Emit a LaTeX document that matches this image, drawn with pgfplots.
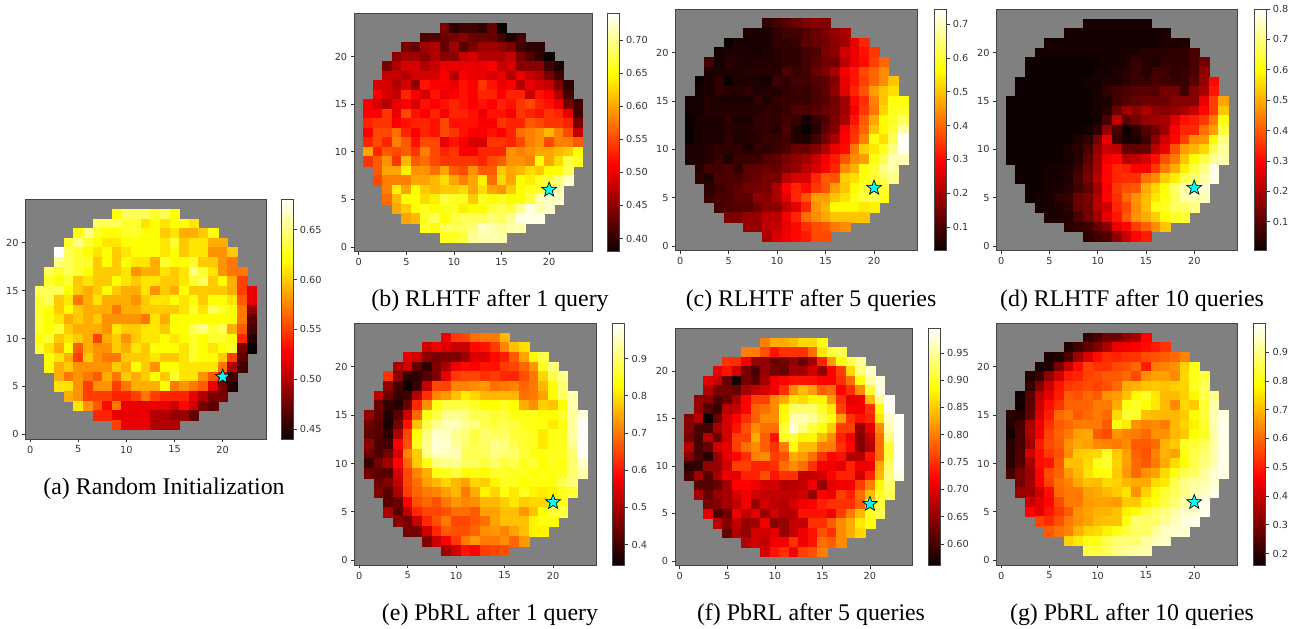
\documentclass[border=0pt]{standalone}
\usepackage{pgfplots}
\pgfplotsset{compat=1.18}
\usepackage{fontspec}
\setmainfont{Liberation Serif}
\newfontfamily\dv{DejaVu Sans}
\newcommand\tfont{\dv\fontsize{7.3}{8.5}\selectfont}
\definecolor{frm}{gray}{0.27}
\definecolor{tk}{gray}{0.2}
\definecolor{stc}{rgb}{0,1,1}
\pgfplotsset{
 colormap={mplhot}{rgb(0pt)=(0.04,0,0) rgb(365pt)=(1,0,0) rgb(746pt)=(1,1,0) rgb(1000pt)=(1,1,1)},
 hm/.style={only marks,scatter,mark=square*,point meta=explicit,line width=0.25pt,
  mark size=\rr pt,scatter/use mapped color={draw=mapped color,fill=mapped color}}}
\pgfdeclareplotmark{fstar}{%
 \pgfpathmoveto{\pgfqpointpolar{90}{\pgfplotmarksize}}%
 \pgfpathlineto{\pgfpointpolar{126}{0.42\pgfplotmarksize}}%
 \pgfpathlineto{\pgfqpointpolar{162}{\pgfplotmarksize}}%
 \pgfpathlineto{\pgfpointpolar{198}{0.42\pgfplotmarksize}}%
 \pgfpathlineto{\pgfqpointpolar{234}{\pgfplotmarksize}}%
 \pgfpathlineto{\pgfpointpolar{270}{0.42\pgfplotmarksize}}%
 \pgfpathlineto{\pgfqpointpolar{306}{\pgfplotmarksize}}%
 \pgfpathlineto{\pgfpointpolar{342}{0.42\pgfplotmarksize}}%
 \pgfpathlineto{\pgfqpointpolar{18}{\pgfplotmarksize}}%
 \pgfpathlineto{\pgfpointpolar{54}{0.42\pgfplotmarksize}}%
 \pgfpathclose\pgfusepathqfillstroke}
\newcount\cx
\def\R#1#2#3{\global\cx=#2\relax\foreach \v in {#3}{\xdef\stream{\stream (\the\cx,#1) [0.\v]}\global\advance\cx by 1 }}
\def\Data#1{\gdef\stream{}#1}
% left, right, top, bottom, colourbar left (px), meta min, meta max, ticks, labels
\def\Panel#1#2#3#4#5#6#7#8#9{%
 \pgfmathsetmacro\xa{(#1)*0.75}\pgfmathsetmacro\ya{(628-#4)*0.75}%
 \pgfmathsetmacro\ww{(#2-#1)*0.75}\pgfmathsetmacro\hh{(#4-#3)*0.75}%
 \pgfmathsetmacro\rr{\ww/50}\pgfmathsetmacro\cbo{(#5-#2)*0.75-8.5}%
 \begin{axis}[scale only axis,width=\ww pt,height=\hh pt,at={(\xa pt,\ya pt)},anchor=south west,
  xmin=-0.5,xmax=24.5,ymin=-0.5,ymax=24.5,
  xtick={0,5,10,15,20},ytick={0,5,10,15,20},xtick pos=bottom,ytick pos=left,
  tick align=outside,major tick length=2.6pt,
  tick style={color=tk,line width=0.5pt},axis line style={color=frm,line width=0.6pt},
  tick label style={font=\tfont,text=tk},/pgf/number format/assume math mode=true,
  xticklabel style={yshift=1pt},yticklabel style={xshift=1pt},
  axis background/.style={fill=gray},
  colormap name=mplhot,point meta min=#6,point meta max=#7,
  colorbar,colorbar style={at={(parent axis.north east)},anchor=north west,xshift=\cbo pt,
   width=9pt,ytick={#8},yticklabels={#9},ytick pos=right,tick align=outside,major tick length=2.6pt,
   tick style={color=tk,line width=0.5pt},axis line style={color=frm,line width=0.6pt},
   yticklabel style={font=\tfont,text=tk,xshift=-1pt}}]
 \edef\temp{\noexpand\addplot[hm] coordinates {\stream};}\temp
 \addplot[only marks,mark=fstar,mark size=5.8pt,mark options={fill=stc,draw=black,line width=0.5pt}] coordinates {(20,6)};
 \end{axis}}
\begin{document}
\begin{tikzpicture}[x=0.75pt,y=0.75pt]
\path[use as bounding box] (0,0) rectangle (1295,628);
% (a)
\Data{
\R{23}{9}{62,64,64,64,63,64,62}
\R{22}{7}{64,64,64,63,63,61,62,61,62,62,61}
\R{21}{5}{62,65,63,62,62,63,63,62,62,60,61,59,59,60,62}
\R{20}{4}{63,65,63,62,61,61,62,62,62,62,61,63,60,61,61,59,59}
\R{19}{3}{68,64,63,62,61,62,60,61,62,62,62,61,62,60,61,61,58,58,60}
\R{18}{3}{65,64,63,63,60,62,60,62,61,61,59,63,62,62,63,60,60,58,57}
\R{17}{2}{64,63,64,63,62,60,60,60,61,58,59,59,61,60,61,65,63,61,58,57,57}
\R{16}{2}{63,62,63,60,61,60,60,62,61,60,61,61,60,60,61,63,64,60,62,59,55}
\R{15}{1}{64,64,64,62,60,59,60,62,60,59,59,61,58,60,59,62,60,60,60,60,59,55,52}
\R{14}{1}{63,64,60,61,57,59,61,59,59,59,58,60,61,61,62,61,62,60,62,62,61,56,52}
\R{13}{1}{63,62,60,62,60,59,59,59,57,59,59,60,60,60,60,61,63,61,64,63,62,57,49}
\R{12}{1}{63,62,61,59,60,59,60,58,58,58,58,57,61,59,62,62,62,62,62,62,62,57,47}
\R{11}{1}{63,62,63,60,59,59,59,58,61,60,60,61,61,60,62,62,64,65,63,64,59,56,46}
\R{10}{1}{62,63,60,61,60,59,55,59,60,58,60,61,61,62,61,62,63,62,63,63,62,54,45}
\R{9}{1}{63,61,59,62,56,59,58,58,60,59,61,60,62,62,62,61,63,62,61,62,63,48,44}
\R{8}{2}{62,61,59,55,60,58,57,57,60,60,60,61,60,60,61,63,62,62,60,55,47}
\R{7}{2}{62,59,60,58,58,58,58,60,59,62,60,58,62,62,61,61,61,61,57,50,46}
\R{6}{3}{59,57,58,57,56,59,57,60,59,60,62,60,63,61,61,58,56,53,46}
\R{5}{3}{61,61,58,55,58,58,55,57,59,59,59,62,57,58,57,56,52,48,45}
\R{4}{4}{59,58,55,55,55,54,54,55,57,55,54,54,54,52,50,48,48}
\R{3}{5}{61,58,56,53,57,52,52,52,52,52,51,53,51,48,47}
\R{2}{7}{54,54,52,52,52,52,50,50,49,49,47}
\R{1}{9}{55,52,52,52,50,50,50}
}
\Panel{25.3}{266}{199.7}{439}{281}{0.44}{0.68}{0.45,0.50,0.55,0.60,0.65}{0.45,0.50,0.55,0.60,0.65}
% (b)
\Data{
\R{23}{9}{44,40,41,41,40,43,38}
\R{22}{7}{42,42,43,44,45,43,43,43,41,39,41}
\R{21}{5}{44,43,46,47,43,46,42,44,46,46,45,44,41,40,40}
\R{20}{4}{45,46,46,45,47,45,45,48,49,47,47,47,48,44,42,40,38}
\R{19}{3}{44,47,49,49,47,48,50,50,50,50,50,51,48,49,45,45,45,41,39}
\R{18}{3}{48,48,47,49,49,49,51,47,51,50,50,49,50,47,50,48,47,44,41}
\R{17}{2}{49,49,47,49,45,52,51,51,50,52,51,54,52,50,51,47,50,49,48,44,40}
\R{16}{2}{51,49,48,53,51,49,52,50,51,52,51,53,53,51,53,53,48,52,51,47,41}
\R{15}{1}{51,49,47,50,51,49,52,51,52,53,52,51,52,51,53,52,54,55,53,52,50,44,41}
\R{14}{1}{51,51,54,50,55,52,51,53,51,53,53,52,50,52,52,51,54,53,52,54,53,50,41}
\R{13}{1}{53,54,54,51,52,53,53,52,55,52,52,52,51,51,54,53,53,56,55,54,54,53,44}
\R{12}{1}{51,55,55,57,53,51,53,52,55,54,52,51,51,52,51,53,57,58,59,61,58,55,48}
\R{11}{1}{53,55,53,58,56,52,55,55,50,52,51,49,49,54,54,53,55,58,59,55,58,58,56}
\R{10}{1}{60,53,56,55,56,54,58,55,53,54,51,51,53,53,53,59,58,59,60,60,61,62,65}
\R{9}{1}{54,56,59,54,61,56,57,55,54,54,54,54,53,55,56,59,59,58,65,60,63,67,66}
\R{8}{2}{56,60,60,64,59,59,57,60,56,55,59,56,56,62,60,61,63,62,65,65,68}
\R{7}{2}{55,58,58,58,60,60,61,63,60,58,60,64,57,63,60,65,64,66,67,69,72}
\R{6}{3}{58,64,60,65,62,61,62,62,63,60,63,60,59,62,65,66,66,68,71}
\R{5}{3}{57,61,65,65,63,64,67,66,66,62,66,65,66,65,65,67,71,72,72}
\R{4}{4}{60,62,65,66,65,66,66,64,65,65,67,68,67,70,73,71,72}
\R{3}{5}{60,61,66,68,65,67,68,68,68,69,68,70,73,73,73}
\R{2}{7}{66,65,68,68,68,69,72,71,70,71,71}
\R{1}{9}{66,66,67,70,71,71,71}
}
\Panel{354}{592}{13.7}{251.7}{607.3}{0.38}{0.74}{0.40,0.45,0.50,0.55,0.60,0.65,0.70}{0.40,0.45,0.50,0.55,0.60,0.65,0.70}
% (c)
\Data{
\R{23}{9}{07,09,11,13,15,17,15}
\R{22}{7}{05,05,05,07,09,09,11,13,15,18,20}
\R{21}{5}{03,05,04,05,05,07,07,08,12,13,14,17,19,27,33}
\R{20}{4}{04,05,05,05,04,05,06,07,07,09,10,15,17,24,27,31,35}
\R{19}{3}{09,04,06,06,05,06,06,06,07,07,09,12,14,14,22,27,30,36,40}
\R{18}{3}{05,05,05,05,06,06,06,06,10,08,09,13,15,20,28,31,37,40,44}
\R{17}{2}{03,05,07,03,05,05,05,04,08,07,09,09,11,12,16,27,31,36,40,44,50}
\R{16}{2}{04,05,07,06,06,07,05,06,06,07,08,08,10,12,17,26,33,38,46,50,53}
\R{15}{1}{04,04,06,05,05,05,05,07,05,07,08,08,08,10,11,14,19,30,34,43,50,57,57}
\R{14}{1}{04,04,06,06,06,06,06,06,07,07,08,10,10,11,13,15,19,28,35,42,52,58,59}
\R{13}{1}{03,05,05,05,07,05,05,07,07,07,09,08,04,07,10,15,20,31,39,47,56,59,63}
\R{12}{1}{03,05,05,05,06,06,06,07,07,06,10,05,03,06,12,16,28,34,40,50,56,60,68}
\R{11}{1}{03,05,05,05,07,05,06,06,08,08,09,06,05,09,14,20,29,35,43,57,53,62,74}
\R{10}{1}{05,05,06,07,07,07,05,07,07,08,10,13,13,16,20,27,30,42,51,54,58,65,74}
\R{9}{1}{05,05,06,08,05,08,08,08,11,12,15,17,19,23,28,32,38,44,46,57,62,69,69}
\R{8}{2}{06,09,09,10,07,12,12,13,13,16,18,22,25,29,33,44,48,57,60,66,68}
\R{7}{2}{07,05,10,10,10,12,13,15,15,22,25,25,33,39,38,51,53,57,60,63,66}
\R{6}{3}{07,08,10,12,14,14,15,20,29,33,30,35,38,46,50,56,60,60,60}
\R{5}{3}{08,10,10,12,12,17,16,20,26,33,38,46,46,50,53,58,61,62,58}
\R{4}{4}{09,10,11,11,14,17,17,22,26,33,45,48,56,56,56,54,55}
\R{3}{5}{15,15,18,18,22,22,28,33,41,44,47,50,50,50,50}
\R{2}{7}{18,18,22,23,27,30,34,37,38,42,44}
\R{1}{9}{20,25,28,30,32,37,37}
}
\Panel{675.3}{917.7}{9}{250.7}{934}{0.03}{0.745}{0.1,0.2,0.3,0.4,0.5,0.6,0.7}{0.1,0.2,0.3,0.4,0.5,0.6,0.7}
% (d)
\Data{
\R{23}{9}{02,02,02,02,02,02,02}
\R{22}{7}{02,02,02,02,02,02,02,02,02,02,02}
\R{21}{5}{02,02,02,02,02,02,02,02,02,02,02,02,03,03,03}
\R{20}{4}{02,02,02,02,02,02,02,02,02,03,03,04,04,04,05,05,08}
\R{19}{3}{01,01,01,01,01,01,01,01,02,02,03,06,04,03,05,05,05,08,13}
\R{18}{3}{01,01,01,01,01,01,01,02,02,03,04,06,04,07,07,05,06,08,16}
\R{17}{2}{01,01,01,01,01,01,01,02,02,03,03,04,06,06,08,07,06,06,10,17,30}
\R{16}{2}{01,01,01,01,01,01,01,01,02,05,07,08,09,10,09,13,13,07,15,19,32}
\R{15}{1}{01,01,01,01,01,01,01,01,01,02,03,07,09,11,12,12,12,15,15,15,27,37,49}
\R{14}{1}{01,01,01,01,01,01,01,01,01,02,04,12,18,16,20,16,15,17,19,23,30,37,53}
\R{13}{1}{01,01,01,01,01,01,01,01,01,02,08,22,10,13,17,18,19,25,31,33,36,44,61}
\R{12}{1}{01,01,01,01,01,01,01,01,02,05,17,08,01,04,09,12,18,29,34,34,43,48,65}
\R{11}{1}{01,01,01,01,01,01,01,03,05,13,27,06,02,03,07,16,24,30,37,46,47,60,70}
\R{10}{1}{01,01,01,01,01,01,03,04,08,17,23,22,11,11,12,21,27,39,48,51,55,66,72}
\R{9}{1}{01,01,01,01,01,01,02,04,10,18,28,30,21,22,25,31,39,44,53,60,65,72,73}
\R{8}{2}{01,01,01,02,02,03,06,12,19,30,34,33,29,29,36,44,50,58,65,70,78}
\R{7}{2}{01,01,01,02,02,03,08,13,21,30,34,35,35,43,46,54,58,66,69,73,78}
\R{6}{3}{01,01,02,02,04,07,11,18,29,36,39,40,50,55,60,68,73,74,76}
\R{5}{3}{01,02,02,05,06,12,14,20,30,35,42,47,52,57,61,66,73,74,74}
\R{4}{4}{02,02,03,05,11,13,21,24,34,38,46,52,61,62,67,68,70}
\R{3}{5}{03,03,03,08,13,18,27,32,40,47,50,54,60,63,64}
\R{2}{7}{04,05,07,11,15,27,30,37,41,46,53}
\R{1}{9}{05,07,09,16,23,30,33}
}
\Panel{996.3}{1237.7}{9}{250.7}{1254}{0.005}{0.80}{0.1,0.2,0.3,0.4,0.5,0.6,0.7,0.8}{0.1,0.2,0.3,0.4,0.5,0.6,0.7,0.8}
% (e)
\Data{
\R{23}{9}{57,64,65,69,70,70,76}
\R{22}{7}{54,57,55,53,53,59,60,64,71,77,80}
\R{21}{5}{56,54,47,45,46,46,49,55,55,59,61,67,74,83,88}
\R{20}{4}{50,54,43,38,46,50,57,59,58,60,60,64,65,68,73,85,91}
\R{19}{3}{63,47,38,38,42,46,56,64,65,65,63,64,62,62,66,70,79,88,92}
\R{18}{3}{48,40,35,39,53,65,65,71,71,72,73,69,70,71,68,70,76,83,90}
\R{17}{2}{52,44,39,40,51,63,71,73,77,81,79,76,76,76,76,69,70,74,83,89,94}
\R{16}{2}{44,39,37,44,62,72,84,87,87,87,85,83,83,85,83,75,72,78,77,83,94}
\R{15}{1}{48,43,37,42,54,68,84,87,92,92,91,88,88,86,87,84,84,85,83,83,86,93,97}
\R{14}{1}{44,42,36,45,60,77,88,92,95,95,92,91,88,87,88,87,85,84,84,81,84,93,99}
\R{13}{1}{43,42,38,50,65,83,91,96,95,92,91,87,90,89,89,87,86,85,81,84,85,93,99}
\R{12}{1}{47,41,40,58,66,85,92,97,96,93,90,88,89,92,91,88,86,85,81,84,85,92,99}
\R{11}{1}{44,41,45,54,71,78,92,96,95,95,88,88,89,91,91,90,87,84,84,85,85,90,99}
\R{10}{1}{39,45,49,58,68,78,84,91,92,92,89,89,87,90,87,88,85,87,83,85,84,90,96}
\R{9}{1}{44,42,42,54,65,71,75,84,85,87,83,84,83,86,86,85,85,84,84,84,85,90,94}
\R{8}{2}{44,46,52,65,69,74,76,79,76,74,79,78,82,85,85,83,84,84,84,88,91}
\R{7}{2}{46,42,50,64,68,70,71,74,76,70,75,82,79,84,81,85,82,81,82,85,86}
\R{6}{3}{42,44,58,66,68,66,70,73,71,72,76,76,78,81,78,79,79,82,85}
\R{5}{3}{50,42,52,62,65,65,66,69,69,67,74,74,77,77,73,77,83,87,87}
\R{4}{4}{47,45,53,62,66,70,65,65,67,69,74,77,77,77,82,84,84}
\R{3}{5}{45,45,54,62,67,66,66,68,72,73,71,74,77,82,82}
\R{2}{7}{46,53,58,64,70,73,70,70,72,68,73}
\R{1}{9}{49,54,60,58,64,65,66}
}
\Panel{354.3}{596.7}{323.3}{565}{612.7}{0.345}{0.995}{0.4,0.5,0.6,0.7,0.8,0.9}{0.4,0.5,0.6,0.7,0.8,0.9}
% (f)
\Data{
\R{23}{9}{80,83,83,84,86,86,89}
\R{22}{7}{80,80,77,73,75,75,75,79,87,91,92}
\R{21}{5}{75,75,71,65,65,62,63,65,62,66,74,82,89,92,95}
\R{20}{4}{71,73,69,63,60,65,63,62,66,66,69,65,72,76,86,94,97}
\R{19}{3}{70,68,62,57,63,61,66,71,72,73,73,73,72,72,75,79,89,96,98}
\R{18}{3}{67,63,63,62,66,68,69,71,75,81,84,82,78,79,72,75,81,91,98}
\R{17}{2}{65,64,60,62,66,72,76,76,81,83,87,86,88,88,82,75,70,71,84,95,99}
\R{16}{2}{65,61,59,67,68,72,78,79,81,88,93,93,93,90,87,76,71,71,75,89,99}
\R{15}{1}{64,67,56,62,69,72,75,78,81,81,89,96,96,95,92,89,82,75,73,74,87,97,99}
\R{14}{1}{64,60,60,66,69,73,77,81,79,79,91,98,94,91,89,85,76,76,65,70,81,96,99}
\R{13}{1}{63,60,67,62,69,76,76,83,78,73,90,91,88,88,84,81,74,71,64,68,79,94,99}
\R{12}{1}{67,60,62,69,70,76,79,81,78,75,80,89,84,84,80,80,75,72,64,67,79,91,99}
\R{11}{1}{64,60,58,65,70,72,75,80,81,76,77,83,82,79,75,72,73,67,67,73,79,91,99}
\R{10}{1}{58,59,65,65,69,76,76,74,74,75,79,81,79,75,71,71,70,74,71,71,83,93,99}
\R{9}{1}{60,66,61,66,71,70,74,74,77,73,75,75,68,68,69,72,74,74,69,74,84,94,98}
\R{8}{2}{61,61,62,66,72,72,71,69,69,67,67,68,71,65,70,71,71,76,80,88,93}
\R{7}{2}{66,62,65,66,69,71,69,68,68,68,68,69,65,72,71,76,74,79,84,90,92}
\R{6}{3}{63,64,66,68,71,65,69,68,67,69,71,72,74,75,75,75,78,88,91}
\R{5}{3}{70,60,62,71,68,70,65,69,67,67,73,73,73,71,76,80,84,90,92}
\R{4}{4}{68,64,68,65,66,71,64,65,68,68,75,75,78,81,83,87,89}
\R{3}{5}{62,67,65,69,69,70,65,68,71,73,77,75,81,83,86}
\R{2}{7}{67,69,68,71,71,75,71,73,79,78,81}
\R{1}{9}{69,73,75,71,76,77,80}
}
\Panel{675}{912.7}{328.3}{565.7}{928.3}{0.56}{0.995}{0.60,0.65,0.70,0.75,0.80,0.85,0.90,0.95}{0.60,0.65,0.70,0.75,0.80,0.85,0.90,0.95}
% (g)
\Data{
\R{23}{9}{21,24,29,29,33,36,47}
\R{22}{7}{19,23,27,31,37,44,45,46,48,50,53}
\R{21}{5}{18,19,24,35,42,48,52,51,53,53,56,57,58,60,63}
\R{20}{4}{18,19,30,40,48,55,53,53,56,57,60,50,62,63,65,73,80}
\R{19}{3}{19,22,33,41,50,51,55,56,58,58,60,56,65,67,67,64,74,81,84}
\R{18}{3}{21,31,40,49,54,55,56,55,57,60,68,69,71,72,71,73,73,81,86}
\R{17}{2}{17,26,38,43,50,58,57,60,58,65,66,71,78,82,76,70,70,73,78,85,90}
\R{16}{2}{17,26,40,48,53,59,59,59,62,62,68,80,82,79,76,70,64,74,72,83,93}
\R{15}{1}{20,19,27,42,50,60,62,58,60,62,60,74,83,82,71,70,70,70,72,79,84,93,97}
\R{14}{1}{19,23,36,44,53,58,60,62,62,62,58,80,76,65,63,64,62,70,73,77,82,93,98}
\R{13}{1}{17,24,36,45,55,59,62,67,68,58,56,65,63,62,60,65,65,70,72,79,82,92,98}
\R{12}{1}{20,24,34,50,56,58,65,68,67,64,63,62,64,58,58,60,69,72,82,83,86,92,98}
\R{11}{1}{20,25,41,48,54,57,64,72,73,74,82,72,67,59,57,63,69,67,80,85,88,93,98}
\R{10}{1}{20,25,36,48,49,58,71,71,74,81,83,73,67,60,58,62,68,74,79,85,89,93,98}
\R{9}{1}{23,30,34,47,56,59,66,70,75,79,80,72,66,60,65,67,74,80,85,87,91,96,98}
\R{8}{2}{29,35,46,55,61,63,68,71,70,74,73,70,68,68,74,76,85,90,92,93,96}
\R{7}{2}{34,35,40,48,60,62,62,67,68,70,72,75,65,73,78,83,86,90,93,95,98}
\R{6}{3}{40,43,47,56,62,62,66,67,67,66,72,72,77,80,84,88,92,96,98}
\R{5}{3}{47,43,49,54,58,65,67,69,69,71,77,79,84,87,89,92,95,96,98}
\R{4}{4}{55,52,57,62,65,67,70,71,71,80,88,87,87,91,94,97,98}
\R{3}{5}{58,61,63,69,73,74,77,80,84,87,87,91,95,96,96}
\R{2}{7}{73,76,80,80,85,88,88,88,92,94,95}
\R{1}{9}{84,84,86,89,91,92,93}
}
\Panel{996.3}{1237.7}{323.3}{565}{1253.7}{0.16}{1.0}{0.2,0.3,0.4,0.5,0.6,0.7,0.8,0.9}{0.2,0.3,0.4,0.5,0.6,0.7,0.8,0.9}
% captions
\def\cap#1#2#3{\node[font=\fontsize{17.9}{21}\selectfont,inner sep=0pt] at (#1,#2) {#3};}
\cap{164}{139}{(a) Random Initialization}
\cap{490}{327}{(b) RLHTF after 1 query}
\cap{811}{327}{(c) RLHTF after 5 queries}
\cap{1132}{327}{(d) RLHTF after 10 queries}
\cap{490}{13}{(e) PbRL after 1 query}
\cap{811}{13}{(f) PbRL after 5 queries}
\cap{1132}{13}{(g) PbRL after 10 queries}
\end{tikzpicture}
\end{document}
